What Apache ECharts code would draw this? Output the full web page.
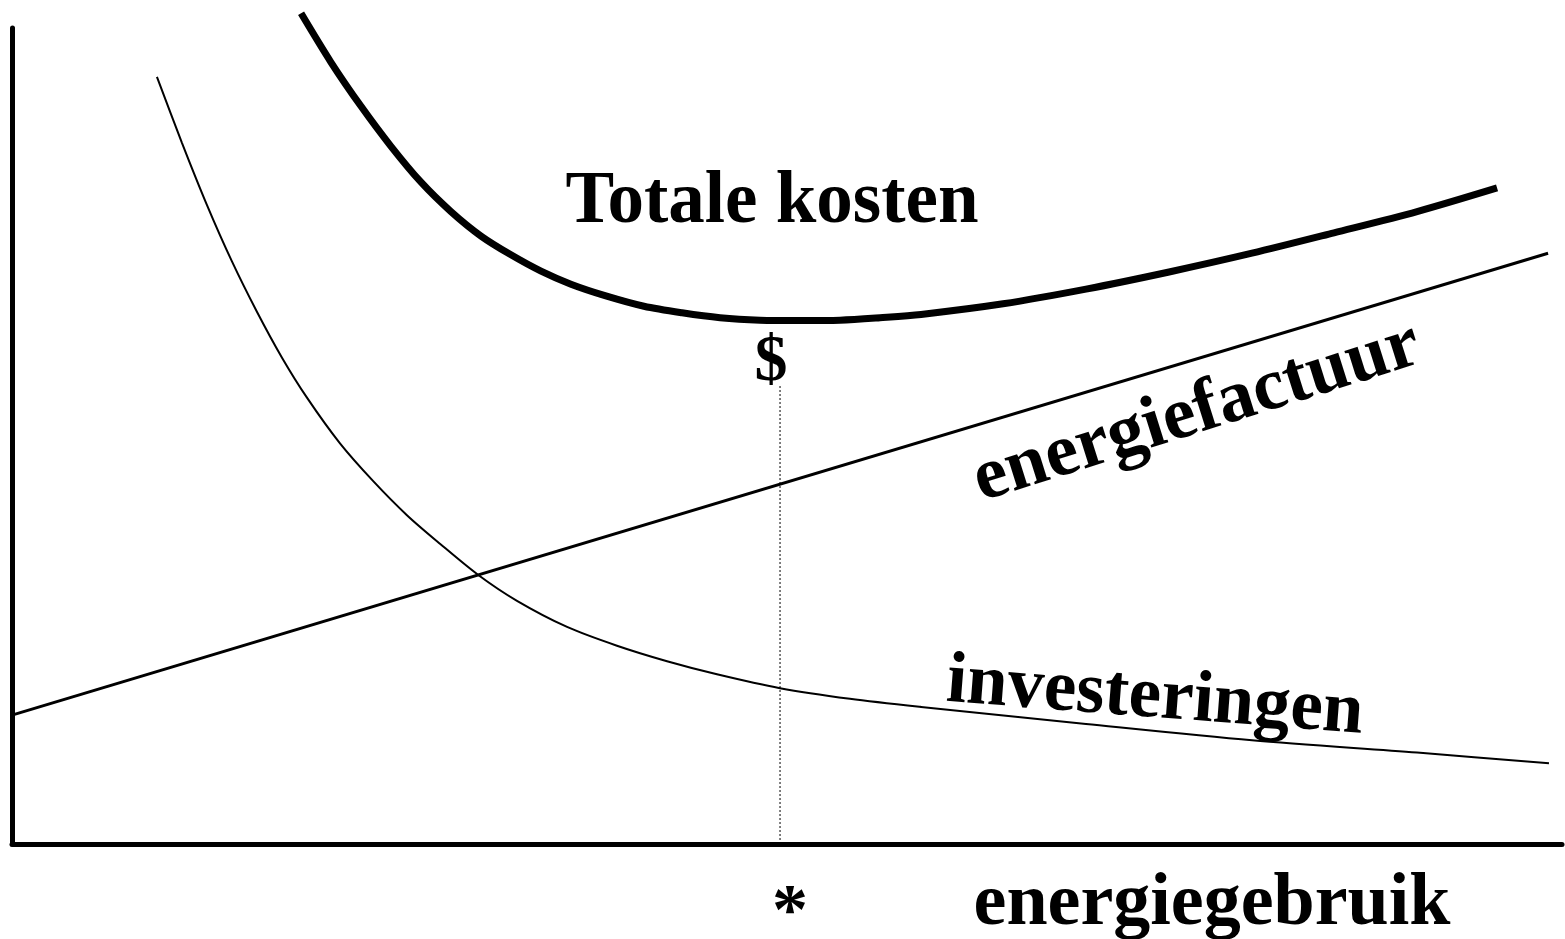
<!DOCTYPE html>
<html>
<head>
<meta charset="utf-8">
<script src="https://cdn.jsdelivr.net/npm/echarts@6/dist/echarts.min.js"></script>
<style>
html,body{margin:0;padding:0;background:#fff;}
#chart{width:1565px;height:939px;}
</style>
</head>
<body>
<div id="chart"></div>
<script>
// Conceptual chart: x = energiegebruik (0-100), y = kosten (0-100)
const energiefactuurX = [0, 99.1];
const energiefactuurY = [15.8, 72.4];

const investeringenX = [9.35, 10.97, 12.58, 14.19, 15.81, 17.42, 19.03, 21.16, 23.29, 25.48, 27.61, 30.06, 32.58, 35.81, 39.03, 42.26, 45.48, 49.55, 54.06, 58.65, 69.29, 80.0, 90.65, 99.16];
const investeringenY = [94.0, 85.9, 78.3, 71.4, 65.2, 59.6, 54.7, 49.1, 44.5, 40.3, 36.8, 33.0, 29.8, 26.6, 24.3, 22.4, 20.8, 19.1, 17.8, 16.8, 14.7, 12.7, 11.2, 9.9];

const totaleX = [18.65, 20.58, 22.52, 24.45, 26.39, 28.32, 30.26, 32.19, 34.13, 36.06, 38.26, 40.77, 43.23, 45.68, 48.26, 50.84, 53.42, 56.0, 58.65, 63.94, 69.29, 74.65, 80.0, 85.29, 90.65, 95.81];
const totaleY = [101.8, 95.8, 90.4, 85.5, 81.1, 77.5, 74.5, 72.2, 70.2, 68.6, 67.2, 65.9, 65.1, 64.5, 64.2, 64.15, 64.2, 64.5, 64.9, 66.2, 68.0, 70.1, 72.4, 74.9, 77.5, 80.4];

const optimumX = [49.55, 49.55];
const optimumY = [0, 56.3];

const labels = {
  totale: 'Totale kosten',
  factuur: 'energiefactuur',
  invest: 'investeringen',
  xName: 'energiegebruik',
  dollar: '$',
  star: '*'
};

const zip = (xs, ys) => xs.map((x, i) => [x, ys[i]]);
const FONT = '"Liberation Serif", "Times New Roman", serif';

const chart = echarts.init(document.getElementById('chart'), null, {renderer: 'canvas'});
const axisCommon = {
  type: 'value', min: 0, max: 100,
  axisLine: {show: true, lineStyle: {color: '#000', width: 5}},
  axisTick: {show: false}, axisLabel: {show: false}, splitLine: {show: false}
};
const textStyle = (t, size) => ({text: t, fill: '#000', font: 'bold ' + size + 'px ' + FONT, align: 'center', verticalAlign: 'middle'});

chart.setOption({
  animation: false,
  backgroundColor: '#fff',
  grid: {left: 12, right: 3, top: 28, bottom: 95},
  xAxis: axisCommon,
  yAxis: axisCommon,
  series: [
    {type: 'line', data: zip(energiefactuurX, energiefactuurY), symbol: 'none', lineStyle: {color: '#000', width: 3}, clip: false},
    {type: 'line', data: zip(investeringenX, investeringenY), smooth: 0.3, symbol: 'none', lineStyle: {color: '#000', width: 2}, clip: false},
    {type: 'line', data: zip(totaleX, totaleY), smooth: 0.3, symbol: 'none', lineStyle: {color: '#000', width: 7}, clip: false},
    {type: 'line', data: zip(optimumX, optimumY), symbol: 'none', lineStyle: {color: '#000', width: 1, type: [2, 2]}, clip: false}
  ],
  graphic: [
    {type: 'text', x: 772, y: 203, style: textStyle(labels.totale, 73)},
    {type: 'text', x: 1197, y: 413, rotation: 17.5 * Math.PI / 180, style: textStyle(labels.factuur, 74)},
    {type: 'text', x: 1155, y: 698, rotation: -4.4 * Math.PI / 180, style: textStyle(labels.invest, 73)},
    {type: 'text', x: 1212, y: 905, style: textStyle(labels.xName, 74)},
    {type: 'text', x: 771, y: 363, style: textStyle(labels.dollar, 66)},
    {type: 'text', x: 790, y: 914, style: textStyle(labels.star, 72)}
  ]
});
</script>
</body>
</html>
